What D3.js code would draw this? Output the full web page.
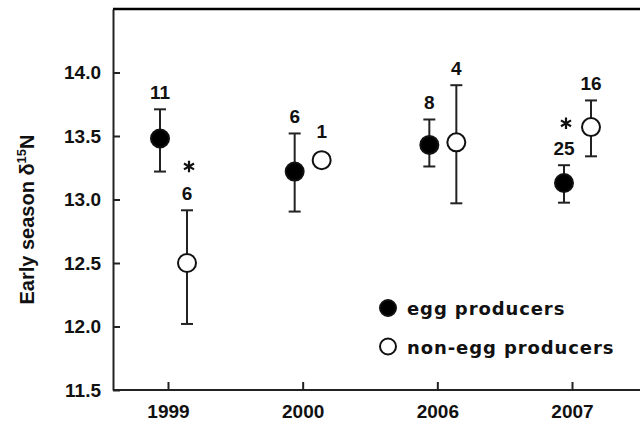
<!DOCTYPE html>
<html>
<head>
<meta charset="utf-8">
<script src="https://cdn.jsdelivr.net/npm/d3@7"></script>
<style>
  body { margin: 0; background: #fff; }
  svg { display: block; }
  .axis text { font-family: "Liberation Sans", Arial, sans-serif; font-weight: bold; font-size: 19px; fill: #111; }
  .axis path, .axis line { stroke: #222; stroke-width: 2px; }
</style>
</head>
<body>
<svg id="chart"></svg>
<script>
const years = ["1999", "2000", "2006", "2007"];
const eggMean = [13.48, 13.22, 13.43, 13.13];
const eggLow = [13.22, 12.905, 13.26, 12.975];
const eggHigh = [13.71, 13.52, 13.63, 13.27];
const eggN = [11, 6, 8, 25];
const nonMean = [12.50, 13.31, 13.45, 13.57];
const nonLow = [12.02, null, 12.97, 13.34];
const nonHigh = [12.915, null, 13.90, 13.78];
const nonN = [6, 1, 4, 16];
const yTicks = [11.5, 12.0, 12.5, 13.0, 13.5, 14.0];
const starYears = ["1999", "2007"];
const starValues = [13.26, 13.60];
const legendLabels = ["egg producers", "non-egg producers"];

const SIZE = { width: 640, height: 423 };
const MARGIN = { left: 113, top: 9, bottom: 33 };
const R = 9;

const svg = d3.select("svg#chart").attr("width", SIZE.width).attr("height", SIZE.height);

const x = d3.scalePoint().domain(years).range([168, 572]);
const y = d3.scaleLinear().domain([11.5, 14.5]).range([SIZE.height - MARGIN.bottom, MARGIN.top]);

// frame: top line runs off the right edge
svg.append("line").attr("x1", MARGIN.left).attr("x2", SIZE.width + 5)
  .attr("y1", MARGIN.top).attr("y2", MARGIN.top)
  .attr("stroke", "#000").attr("stroke-width", 2.5);

const yAxis = d3.axisLeft(y).tickValues(yTicks).tickFormat(d3.format(".1f"))
  .tickSizeInner(-7).tickSizeOuter(0).tickPadding(12);
svg.append("g").attr("class", "axis").attr("transform", `translate(${MARGIN.left},0)`).call(yAxis);

const xAxis = d3.axisBottom(x).tickSizeInner(-8).tickSizeOuter(0).tickPadding(15);
const xG = svg.append("g").attr("class", "axis")
  .attr("transform", `translate(0,${SIZE.height - MARGIN.bottom})`).call(xAxis);
xG.select(".domain").attr("d", `M${MARGIN.left},0H${SIZE.width + 5}`);

svg.append("text")
  .attr("transform", `translate(34,${(y(11.5) + y(14.5)) / 2 + 20}) rotate(-90)`)
  .attr("text-anchor", "middle")
  .style("font-family", "Liberation Sans, Arial, sans-serif").style("font-weight", "bold").style("font-size", "20px")
  .attr("fill", "#111")
  .call(t => {
    t.append("tspan").text("Early season δ");
    t.append("tspan").attr("dy", -8).style("font-size", "13px").text("15");
    t.append("tspan").attr("dy", 8).text("N");
  });

function series(means, lows, highs, ns, dx, fill) {
  return years.map((yr, i) => ({
    year: yr, mean: means[i], lo: lows[i], hi: highs[i], n: ns[i], dx: dx, fill: fill
  }));
}
const groups = [
  series(eggMean, eggLow, eggHigh, eggN, -8, "#000"),
  series(nonMean, nonLow, nonHigh, nonN, 19, "#fff"),
];

const plot = svg.append("g");
groups.forEach(data => {
  const g = plot.selectAll(null).data(data).enter().append("g")
    .attr("transform", d => `translate(${x(d.year) + d.dx},0)`);
  const withErr = g.filter(d => d.lo !== null);
  withErr.append("line").attr("y1", d => y(d.lo)).attr("y2", d => y(d.hi))
    .attr("stroke", "#222").attr("stroke-width", 2);
  ["lo", "hi"].forEach(k => {
    withErr.append("line").attr("x1", -6).attr("x2", 6)
      .attr("y1", d => y(d[k])).attr("y2", d => y(d[k]))
      .attr("stroke", "#222").attr("stroke-width", 2);
  });
  g.append("circle").attr("cy", d => y(d.mean)).attr("r", R)
    .attr("fill", d => d.fill).attr("stroke", "#111").attr("stroke-width", 2);
  g.append("text").attr("text-anchor", "middle")
    .attr("y", d => d.lo !== null ? y(d.hi) - 10 : y(d.mean) - R - 13)
    .style("font-family", "Liberation Sans, Arial, sans-serif").style("font-weight", "bold").style("font-size", "19px")
    .attr("fill", "#111").text(d => d.n);
});

// significance stars
const star = d3.symbol().type(d3.symbolAsterisk).size(95);
plot.selectAll(".star").data(starYears).enter().append("path")
  .attr("class", "star")
  .attr("transform", (d, i) => {
    const dx = i === 0 ? 21 : -6;
    return `translate(${x(d) + dx},${y(starValues[i])})`;
  })
  .attr("d", star).attr("stroke", "#111").attr("stroke-width", 2.2).attr("fill", "none");

const legend = svg.append("g").attr("transform", "translate(388,308)");
legendLabels.forEach((label, i) => {
  const row = legend.append("g").attr("transform", `translate(0,${i * 38.5})`);
  row.append("circle").attr("r", 8).attr("fill", i === 0 ? "#000" : "#fff")
    .attr("stroke", "#111").attr("stroke-width", 2);
  row.append("text").attr("x", 19).attr("y", 7)
    .style("font-family", "DejaVu Sans, Verdana, sans-serif").style("font-weight", "bold")
    .style("font-size", "18px").style("letter-spacing", "0.9px")
    .attr("fill", "#111").text(label);
});
</script>
</body>
</html>
